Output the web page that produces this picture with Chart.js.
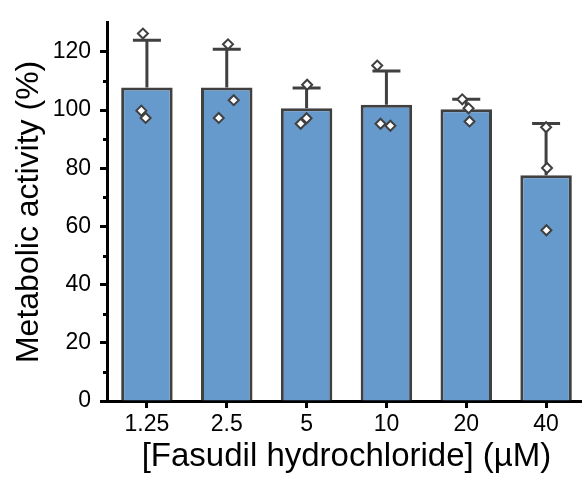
<!DOCTYPE html>
<html>
<head>
<meta charset="utf-8">
<script src="https://cdn.jsdelivr.net/npm/chart.js@4"></script>
<style>
  html, body { margin: 0; padding: 0; overflow: hidden; background: #fff; }
</style>
</head>
<body>
<canvas id="chart" width="593" height="479"></canvas>
<script>
// data
const concentrations = ["1.25", "2.5", "5", "10", "20", "40"];
const meanActivity = [107.8, 107.8, 100.6, 101.8, 100.3, 77.6];
const errorTop = [124.0, 120.9, 107.6, 113.4, 103.7, 95.4];
const replicateValues = [
  [126.3, 99.8, 97.3],
  [122.6, 97.3, 103.4],
  [108.7, 95.3, 97.2],
  [115.3, 95.3, 94.6],
  [103.7, 100.6, 96.1],
  [94.1, 80.1, 58.7],
];
// horizontal scatter of the replicate points, in category units
const replicateJitter = [
  [-0.05, -0.07, -0.016],
  [0.016, -0.1, 0.087],
  [0.007, -0.074, 0.0],
  [-0.115, -0.074, 0.05],
  [-0.05, 0.029, 0.041],
  [0.0, 0.012, 0.004],
];
const minorTicks = [10, 30, 50, 70, 90, 110];

const fontFamily = "'Liberation Sans', Arial, sans-serif";
const darkGray = "#404040";

const replicatePoints = replicateValues.flatMap((vals, i) =>
  vals.map((v, j) => ({ x: i + replicateJitter[i][j], y: v }))
);

// error bars (upper side only) drawn right after the bars
const errorBarPlugin = {
  id: "errorBars",
  afterDatasetDraw(chart, args) {
    if (args.index !== 0) return;
    const { ctx } = chart;
    const x = chart.scales.x;
    const y = chart.scales.y;
    ctx.save();
    ctx.strokeStyle = darkGray;
    ctx.lineWidth = 3;
    errorTop.forEach((top, i) => {
      const cx = x.getPixelForValue(i);
      const yTop = y.getPixelForValue(top);
      const yBase = y.getPixelForValue(meanActivity[i]);
      ctx.beginPath();
      ctx.moveTo(cx, yBase);
      ctx.lineTo(cx, yTop);
      ctx.moveTo(cx - 14, yTop);
      ctx.lineTo(cx + 14, yTop);
      ctx.stroke();
    });
    ctx.restore();
  },
};

// minor ticks on the y axis
const minorTickPlugin = {
  id: "minorTicks",
  afterDraw(chart) {
    const { ctx } = chart;
    const y = chart.scales.y;
    ctx.save();
    ctx.strokeStyle = "#000";
    ctx.lineWidth = 3;
    minorTicks.forEach((v) => {
      const py = Math.round(y.getPixelForValue(v)) + 0.5;
      ctx.beginPath();
      ctx.moveTo(y.right - 4, py);
      ctx.lineTo(y.right, py);
      ctx.stroke();
    });
    ctx.restore();
  },
};

new Chart(document.getElementById("chart"), {
  type: "bar",
  data: {
    labels: concentrations,
    datasets: [
      {
        type: "bar",
        data: meanActivity,
        backgroundColor: "#6699CC",
        borderColor: darkGray,
        borderWidth: 3,
        barPercentage: 0.645,
        categoryPercentage: 1,
        grouped: false,
        order: 2,
      },
      {
        type: "scatter",
        data: replicatePoints,
        xAxisID: "xPts",
        pointStyle: "rectRot",
        pointRadius: 5,
        borderWidth: 2,
        borderColor: darkGray,
        backgroundColor: "#ffffff",
        order: 0,
      },
    ],
  },
  options: {
    responsive: false,
    animation: false,
    layout: { padding: { top: 11, right: 2, left: 0, bottom: 0 } },
    plugins: {
      legend: { display: false },
      tooltip: { enabled: false },
    },
    scales: {
      x: {
        type: "category",
        offset: true,
        grid: {
          offset: false,
          drawOnChartArea: false,
          drawTicks: true,
          tickLength: 7,
          tickWidth: 3,
          tickColor: "#000",
        },
        border: { color: "#000", width: 3 },
        ticks: {
          color: "#000",
          padding: 3,
          font: { family: fontFamily, size: 23 },
        },
        title: {
          display: true,
          text: "[Fasudil hydrochloride] (µM)",
          color: "#000",
          font: { family: fontFamily, size: 33, lineHeight: 1 },
          padding: { top: 0, bottom: 5.5 },
        },
        afterFit(scale) {
          scale.height = 78;
        },
      },
      // invisible linear axis over the same span, for the jittered replicate points
      xPts: {
        type: "linear",
        position: "bottom",
        offset: false,
        min: -0.5,
        max: 5.5,
        grid: { display: false },
        border: { display: false },
        ticks: { display: false },
        afterFit(scale) {
          scale.height = 0;
        },
      },
      y: {
        min: 0,
        max: 130,
        grid: {
          drawOnChartArea: false,
          drawTicks: true,
          tickLength: 7,
          tickWidth: 3,
          tickColor: "#000",
        },
        border: { color: "#000", width: 3 },
        ticks: {
          stepSize: 20,
          includeBounds: false,
          color: "#000",
          padding: 9,
          font: { family: fontFamily, size: 23 },
        },
        title: {
          display: true,
          text: "Metabolic activity (%)",
          color: "#000",
          font: { family: fontFamily, size: 32, lineHeight: 1 },
          padding: { top: 13, bottom: 0 },
        },
        afterFit(scale) {
          scale.width = 107;
        },
      },
    },
  },
  plugins: [errorBarPlugin, minorTickPlugin],
});
</script>
</body>
</html>
